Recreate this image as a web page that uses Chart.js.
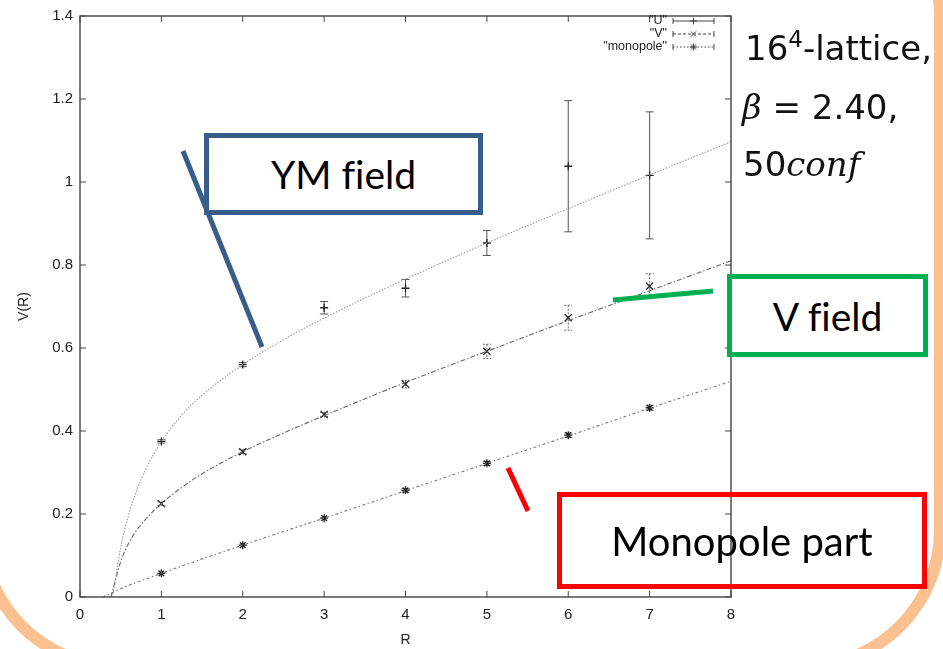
<!DOCTYPE html>
<html>
<head>
<meta charset="utf-8">
<script src="https://cdn.jsdelivr.net/npm/chart.js@4.4.1/dist/chart.umd.min.js"></script>
<style>
  body { margin: 0; background: #fff; }
  #wrap { position: relative; width: 943px; height: 649px; overflow: hidden; background: #fff; }
  #wrap canvas, #wrap svg { position: absolute; left: 0; top: 0; }
  .box { position: absolute; box-sizing: border-box; display: flex; align-items: center; justify-content: center;
         font-family: Lato, "Open Sans", sans-serif; color: #000; font-variant-ligatures: none; }
  .note { position: absolute; font-family: "DejaVu Sans", sans-serif; font-size: 34px; color: #111; white-space: nowrap; line-height: 1; }
  .math { font-family: "DejaVu Serif", serif; font-style: italic; }
</style>
</head>
<body>
<div id="wrap">
  <svg width="943" height="649">
    <rect x="-18" y="-120" width="958" height="786" rx="136" ry="136" fill="none" stroke="#FAC090" stroke-width="12"/>
  </svg>
  <canvas id="c" width="943" height="649"></canvas>
  <svg width="943" height="649">
    <line x1="183" y1="151" x2="262" y2="347" stroke="#385D8A" stroke-width="5"/>
    <line x1="613" y1="300" x2="713" y2="291" stroke="#00B050" stroke-width="5"/>
    <line x1="508" y1="468" x2="528" y2="511" stroke="#FF0000" stroke-width="5"/>
  </svg>
  <div class="box" style="left:204px;top:133px;width:279px;height:82px;border:5px solid #385D8A;background:#fff;font-size:39px;">YM field</div>
  <div class="box" style="left:727px;top:274px;width:201px;height:83px;border:5px solid #00B050;background:#fff;font-size:39px;">V field</div>
  <div class="box" style="left:557px;top:492px;width:370px;height:97px;border:5px solid #FF0000;font-size:40px;">Monopole part</div>
  <div class="note" style="left:745px;top:28px;">16<span style="font-size:23px;vertical-align:13px;">4</span>-lattice,</div>
  <div class="note" style="left:742px;top:90px;"><span class="math">β</span> = 2.40,</div>
  <div class="note" style="left:743px;top:147px;">50<span class="math">conf</span></div>
</div>
<script>
// measured points
const R = [1, 2, 3, 4, 5, 6, 7];
const uVals = [0.375, 0.56, 0.697, 0.744, 0.853, 1.038, 1.016];
const uErrs = [0.004, 0.005, 0.015, 0.021, 0.03, 0.158, 0.153];
const vVals = [0.225, 0.35, 0.44, 0.513, 0.592, 0.673, 0.749];
const vErrs = [0.004, 0.005, 0.005, 0.009, 0.017, 0.03, 0.03];
const mVals = [0.057, 0.125, 0.19, 0.257, 0.322, 0.39, 0.456];
const mErrs = [0.002, 0.003, 0.003, 0.004, 0.005, 0.005, 0.006];

// fit curves
const fitUR = [0.4, 0.5, 0.6, 0.7, 0.8, 1, 1.25, 1.5, 2, 2.5, 3, 4, 5, 6, 7, 8];
const fitU = [0, 0.119, 0.199, 0.259, 0.305, 0.375, 0.438, 0.486, 0.56, 0.62, 0.672, 0.766, 0.853, 0.936, 1.017, 1.097];
const fitVR = [0.38, 0.5, 0.6, 0.7, 0.8, 1, 1.25, 1.5, 2, 2.5, 3, 4, 5, 6, 7, 8];
const fitV = [0, 0.085, 0.13, 0.162, 0.186, 0.225, 0.264, 0.297, 0.35, 0.395, 0.437, 0.517, 0.592, 0.666, 0.738, 0.81];
const fitMR = [0.28, 0.5, 1, 2, 3, 4, 5, 6, 7, 8];
const fitM = [0, 0.02, 0.057, 0.125, 0.19, 0.256, 0.322, 0.388, 0.455, 0.52];

const xTicks = ['0', '1', '2', '3', '4', '5', '6', '7', '8'];
const yTicks = ['0', '0.2', '0.4', '0.6', '0.8', '1', '1.2', '1.4'];
const legendLabels = ['"U"', '"V"', '"monopole"'];

const pts = (xs, ys) => xs.map((x, i) => ({ x: x, y: ys[i] }));
const ink = '#222';
const tickFont = { family: '"Liberation Sans", Arial', size: 15 };

// gnuplot style frame with inward ticks on all sides
const framePlugin = {
  id: 'frame',
  afterDatasetsDraw(chart) {
    const { ctx, chartArea: a, scales: { x, y } } = chart;
    ctx.save();
    ctx.strokeStyle = '#444';
    ctx.lineWidth = 1.4;
    ctx.strokeRect(a.left, a.top, a.right - a.left, a.bottom - a.top);
    ctx.lineWidth = 1;
    const len = 6;
    x.ticks.forEach(t => {
      const px = x.getPixelForValue(t.value);
      ctx.beginPath();
      ctx.moveTo(px, a.bottom); ctx.lineTo(px, a.bottom - len);
      ctx.moveTo(px, a.top); ctx.lineTo(px, a.top + len);
      ctx.stroke();
    });
    y.ticks.forEach(t => {
      const py = y.getPixelForValue(t.value);
      ctx.beginPath();
      ctx.moveTo(a.left, py); ctx.lineTo(a.left + len, py);
      ctx.moveTo(a.right, py); ctx.lineTo(a.right - len, py);
      ctx.stroke();
    });
    ctx.restore();
  }
};

const errorBarPlugin = {
  id: 'errbars',
  beforeDatasetsDraw(chart) {
    const { ctx, scales: { x, y } } = chart;
    chart.data.datasets.forEach(ds => {
      if (!ds.errors) return;
      ctx.save();
      ctx.strokeStyle = ds.errColor;
      ctx.lineWidth = 1;
      ctx.setLineDash(ds.errDash || []);
      ds.data.forEach((p, i) => {
        const e = ds.errors[i];
        const px = x.getPixelForValue(p.x);
        const top = y.getPixelForValue(p.y + e);
        const bot = y.getPixelForValue(p.y - e);
        if (bot - top < 3) return;
        ctx.beginPath();
        ctx.moveTo(px, top); ctx.lineTo(px, bot);
        ctx.moveTo(px - 4, top); ctx.lineTo(px + 4, top);
        ctx.moveTo(px - 4, bot); ctx.lineTo(px + 4, bot);
        ctx.stroke();
      });
      ctx.restore();
    });
  }
};

function marker(ctx, style, cx, cy, r) {
  ctx.beginPath();
  if (style === 'cross' || style === 'star') {
    ctx.moveTo(cx - r, cy); ctx.lineTo(cx + r, cy);
    ctx.moveTo(cx, cy - r); ctx.lineTo(cx, cy + r);
  }
  if (style === 'crossRot' || style === 'star') {
    const d = r * 0.75;
    ctx.moveTo(cx - d, cy - d); ctx.lineTo(cx + d, cy + d);
    ctx.moveTo(cx - d, cy + d); ctx.lineTo(cx + d, cy - d);
  }
  ctx.stroke();
}

const keyPlugin = {
  id: 'key',
  afterDraw(chart) {
    const { ctx } = chart;
    const styles = ['cross', 'crossRot', 'star'];
    const dashes = [[], [3, 2], [1.5, 2]];
    ctx.save();
    ctx.font = '12.5px "Liberation Sans", Arial, sans-serif';
    ctx.textAlign = 'right';
    ctx.textBaseline = 'middle';
    legendLabels.forEach((lab, i) => {
      const yy = 21 + i * 13;
      ctx.fillStyle = '#222';
      ctx.fillText(lab, 667, yy);
      ctx.strokeStyle = '#444';
      ctx.lineWidth = 1;
      ctx.setLineDash(dashes[i]);
      ctx.beginPath();
      ctx.moveTo(673, yy); ctx.lineTo(714, yy);
      ctx.stroke();
      ctx.setLineDash([]);
      ctx.beginPath();
      ctx.moveTo(673, yy - 3); ctx.lineTo(673, yy + 3);
      ctx.moveTo(714, yy - 3); ctx.lineTo(714, yy + 3);
      ctx.stroke();
      marker(ctx, styles[i], 693.5, yy, 3.5);
    });
    ctx.restore();
  }
};

new Chart(document.getElementById('c'), {
  type: 'line',
  data: {
    datasets: [
      { label: 'U fit', data: pts(fitUR, fitU), borderColor: '#9a9a9a', borderWidth: 1.1, borderDash: [1.5, 1.5],
        pointRadius: 0, cubicInterpolationMode: 'monotone' },
      { label: 'V fit', data: pts(fitVR, fitV), borderColor: '#666', borderWidth: 1.1, borderDash: [5, 2, 1.5, 2],
        pointRadius: 0, cubicInterpolationMode: 'monotone' },
      { label: 'monopole fit', data: pts(fitMR, fitM), borderColor: '#777', borderWidth: 1.1, borderDash: [3, 2.5, 1.5, 2.5],
        pointRadius: 0, cubicInterpolationMode: 'monotone' },
      { label: legendLabels[0], data: pts(R, uVals), showLine: false, pointStyle: 'cross', pointRadius: 4,
        borderColor: ink, borderWidth: 1.3, errors: uErrs, errColor: '#555' },
      { label: legendLabels[1], data: pts(R, vVals), showLine: false, pointStyle: 'crossRot', pointRadius: 5,
        borderColor: ink, borderWidth: 1.3, errors: vErrs, errColor: '#666', errDash: [2, 1.5] },
      { label: legendLabels[2], data: pts(R, mVals), showLine: false, pointStyle: 'star', pointRadius: 4,
        borderColor: ink, borderWidth: 1.3, errors: mErrs, errColor: '#666' }
    ]
  },
  options: {
    responsive: false,
    animation: false,
    layout: { padding: { left: 0, right: 212, top: 14, bottom: 0 } },
    plugins: { legend: { display: false }, tooltip: { enabled: false } },
    scales: {
      x: {
        type: 'linear', min: 0, max: 8,
        grid: { display: false, drawTicks: false }, border: { display: false },
        ticks: { stepSize: 1, padding: 9, color: ink, font: tickFont, callback: (v, i) => xTicks[i] },
        title: { display: true, text: 'R', color: ink, font: { family: '"Liberation Sans", Arial', size: 14 },
                 padding: { top: 0, bottom: 0 } },
        afterFit: s => { s.height = 52; }
      },
      y: {
        type: 'linear', min: 0, max: 1.4,
        grid: { display: false, drawTicks: false }, border: { display: false },
        ticks: { stepSize: 0.2, padding: 7, color: ink, font: tickFont, callback: (v, i) => yTicks[i] },
        title: { display: true, text: 'V(R)', color: ink, font: { family: '"Liberation Sans", Arial', size: 14 },
                 padding: { top: 16, bottom: 0 } },
        afterFit: s => { s.width = 80; }
      }
    }
  },
  plugins: [errorBarPlugin, framePlugin, keyPlugin]
});
</script>
</body>
</html>
